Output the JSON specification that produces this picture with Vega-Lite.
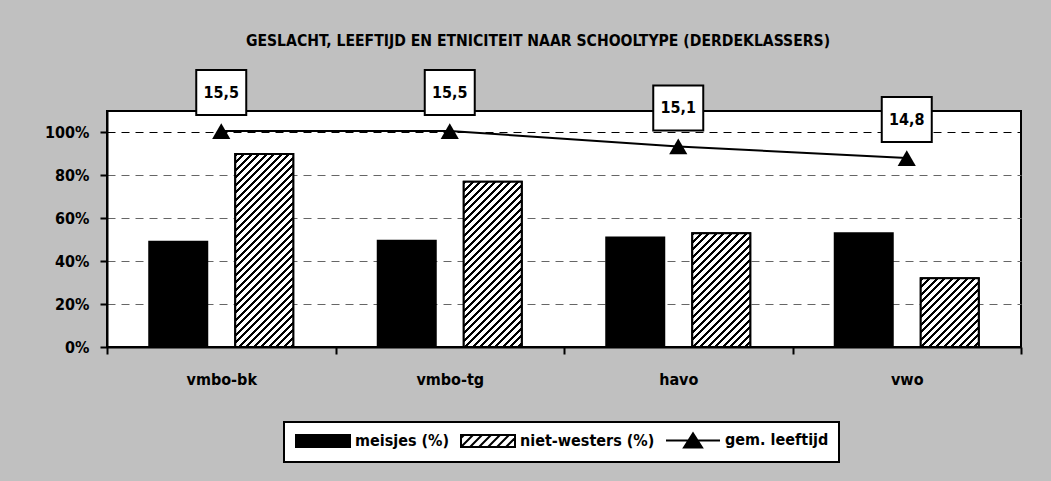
{
  "$schema": "https://vega.github.io/schema/vega-lite/v6.json",
  "width": 914,
  "height": 236,
  "autosize": {"type": "none"},
  "padding": {"left": 107, "top": 111, "right": 30, "bottom": 134},
  "background": "#c0c0c0",
  "title": {
    "text": "GESLACHT, LEEFTIJD EN ETNICITEIT NAAR SCHOOLTYPE (DERDEKLASSERS)",
    "font": "DejaVu Sans Condensed, Liberation Sans Narrow, sans-serif",
    "fontSize": 15.6,
    "fontWeight": "bold",
    "color": "black",
    "anchor": "middle",
    "frame": "group",
    "dx": -26,
    "offset": 16
  },
  "datasets": {
    "bars": [
      {"school": "vmbo-bk", "series": "meisjes (%)", "value": 0.49},
      {"school": "vmbo-bk", "series": "niet-westers (%)", "value": 0.90},
      {"school": "vmbo-tg", "series": "meisjes (%)", "value": 0.495},
      {"school": "vmbo-tg", "series": "niet-westers (%)", "value": 0.77},
      {"school": "havo", "series": "meisjes (%)", "value": 0.51},
      {"school": "havo", "series": "niet-westers (%)", "value": 0.53},
      {"school": "vwo", "series": "meisjes (%)", "value": 0.53},
      {"school": "vwo", "series": "niet-westers (%)", "value": 0.32}
    ],
    "age": [
      {"school": "vmbo-bk", "age": 15.5},
      {"school": "vmbo-tg", "age": 15.5},
      {"school": "havo", "age": 15.1},
      {"school": "vwo", "age": 14.8}
    ]
  },
  "layer": [
    {
      "data": {"name": "bars"},
      "encoding": {
        "x": {
          "field": "school", "type": "nominal",
          "sort": ["vmbo-bk", "vmbo-tg", "havo", "vwo"],
          "scale": {"paddingInner": 0, "paddingOuter": 0},
          "axis": {"title": null, "labelAngle": 0, "tickBand": "extent", "labelPadding": 17, "grid": false}
        },
        "xOffset": {
          "field": "series", "type": "nominal",
          "sort": ["meisjes (%)", "niet-westers (%)"],
          "scale": {"domain": ["meisjes (%)", "niet-westers (%)"], "paddingInner": 0.3256, "paddingOuter": 0.4913}
        },
        "y": {
          "field": "value", "type": "quantitative",
          "scale": {"domain": [0, 1.1], "nice": false},
          "axis": {
            "title": null, "format": ".0%", "values": [0, 0.2, 0.4, 0.6, 0.8, 1],
            "labelPadding": 11, "grid": true, "gridDash": [8, 6], "gridWidth": 1,
            "gridColor": {"condition": {"test": "datum.value === 1", "value": "black"}, "value": "#666666"}
          }
        }
      },
      "layer": [
        {
          "mark": {"type": "bar", "stroke": "black", "strokeWidth": 2},
          "encoding": {
            "fill": {
              "field": "series", "type": "nominal",
              "scale": {"domain": ["meisjes (%)", "niet-westers (%)", "gem. leeftijd"], "range": ["#000000", "#ffffff", "#000000"]},
              "legend": {
                "title": null,
                "orient": "none",
                "direction": "horizontal",
                "legendX": 177,
                "legendY": 311,
                "fillColor": "white",
                "strokeColor": "black",
                "padding": 10,
                "labelFont": "DejaVu Sans Condensed, Liberation Sans Narrow, sans-serif",
                "labelFontSize": 16,
                "labelFontWeight": "bold",
                "labelColor": "black",
                "labelOffset": 24,
                "symbolOffset": 21,
                "symbolSize": 144,
                "symbolStrokeWidth": 2,
                "symbolStrokeColor": "black",
                "columnPadding": 7,
                "encode": {
                  "symbols": {
                    "update": {
                      "shape": {"signal": "datum.value === 'meisjes (%)' ? 'M-4.5,-1H4.5V1H-4.5Z' : datum.value === 'niet-westers (%)' ? 'M-4.5,-1H4.5V1H-4.5ZM-4.5,-0.5L-4,-1M-4.5,1L-2.5,-1M-3,1L-1,-1M-1.5,1L0.5,-1M0,1L2,-1M1.5,1L3.5,-1M3,1L4.5,-0.5' : 'M-4.5,0H4.5M-1.5,1.17L0,-1.17L1.5,1.17Z'"},
                      "fill": {"signal": "datum.value === 'niet-westers (%)' ? 'white' : 'black'"},
                      "stroke": {"value": "black"},
                      "strokeWidth": {"value": 2},
                      "opacity": {"value": 1}
                    }
                  }
                }
              }
            }
          }
        },
        {
          "transform": [{"filter": "datum.series === 'niet-westers (%)'"}],
          "mark": {"type": "bar", "stroke": "black", "strokeWidth": 2},
          "encoding": {
            "fill": {
              "condition": [
                {"test": "datum.school === 'vmbo-bk'", "value": {"gradient": "linear", "x1": 0, "y1": 0, "x2": 1.0702, "y2": 3.5628, "stops": [{"offset":0,"color":"#000"},{"offset":0.004,"color":"#000"},{"offset":0.004,"color":"#fff"},{"offset":0.01,"color":"#fff"},{"offset":0.01,"color":"#000"},{"offset":0.014,"color":"#000"},{"offset":0.014,"color":"#fff"},{"offset":0.02,"color":"#fff"},{"offset":0.02,"color":"#000"},{"offset":0.024,"color":"#000"},{"offset":0.024,"color":"#fff"},{"offset":0.03,"color":"#fff"},{"offset":0.03,"color":"#000"},{"offset":0.034,"color":"#000"},{"offset":0.034,"color":"#fff"},{"offset":0.04,"color":"#fff"},{"offset":0.04,"color":"#000"},{"offset":0.044,"color":"#000"},{"offset":0.044,"color":"#fff"},{"offset":0.05,"color":"#fff"},{"offset":0.05,"color":"#000"},{"offset":0.054,"color":"#000"},{"offset":0.054,"color":"#fff"},{"offset":0.06,"color":"#fff"},{"offset":0.06,"color":"#000"},{"offset":0.064,"color":"#000"},{"offset":0.064,"color":"#fff"},{"offset":0.07,"color":"#fff"},{"offset":0.07,"color":"#000"},{"offset":0.074,"color":"#000"},{"offset":0.074,"color":"#fff"},{"offset":0.08,"color":"#fff"},{"offset":0.08,"color":"#000"},{"offset":0.084,"color":"#000"},{"offset":0.084,"color":"#fff"},{"offset":0.09,"color":"#fff"},{"offset":0.09,"color":"#000"},{"offset":0.094,"color":"#000"},{"offset":0.094,"color":"#fff"},{"offset":0.1,"color":"#fff"},{"offset":0.1,"color":"#000"},{"offset":0.104,"color":"#000"},{"offset":0.104,"color":"#fff"},{"offset":0.11,"color":"#fff"},{"offset":0.11,"color":"#000"},{"offset":0.114,"color":"#000"},{"offset":0.114,"color":"#fff"},{"offset":0.12,"color":"#fff"},{"offset":0.12,"color":"#000"},{"offset":0.124,"color":"#000"},{"offset":0.124,"color":"#fff"},{"offset":0.13,"color":"#fff"},{"offset":0.13,"color":"#000"},{"offset":0.134,"color":"#000"},{"offset":0.134,"color":"#fff"},{"offset":0.14,"color":"#fff"},{"offset":0.14,"color":"#000"},{"offset":0.144,"color":"#000"},{"offset":0.144,"color":"#fff"},{"offset":0.15,"color":"#fff"},{"offset":0.15,"color":"#000"},{"offset":0.154,"color":"#000"},{"offset":0.154,"color":"#fff"},{"offset":0.16,"color":"#fff"},{"offset":0.16,"color":"#000"},{"offset":0.164,"color":"#000"},{"offset":0.164,"color":"#fff"},{"offset":0.17,"color":"#fff"},{"offset":0.17,"color":"#000"},{"offset":0.174,"color":"#000"},{"offset":0.174,"color":"#fff"},{"offset":0.18,"color":"#fff"},{"offset":0.18,"color":"#000"},{"offset":0.184,"color":"#000"},{"offset":0.184,"color":"#fff"},{"offset":0.19,"color":"#fff"},{"offset":0.19,"color":"#000"},{"offset":0.194,"color":"#000"},{"offset":0.194,"color":"#fff"},{"offset":0.2,"color":"#fff"},{"offset":0.2,"color":"#000"},{"offset":0.204,"color":"#000"},{"offset":0.204,"color":"#fff"},{"offset":0.21,"color":"#fff"},{"offset":0.21,"color":"#000"},{"offset":0.214,"color":"#000"},{"offset":0.214,"color":"#fff"},{"offset":0.22,"color":"#fff"},{"offset":0.22,"color":"#000"},{"offset":0.224,"color":"#000"},{"offset":0.224,"color":"#fff"},{"offset":0.23,"color":"#fff"},{"offset":0.23,"color":"#000"},{"offset":0.234,"color":"#000"},{"offset":0.234,"color":"#fff"},{"offset":0.24,"color":"#fff"},{"offset":0.24,"color":"#000"},{"offset":0.244,"color":"#000"},{"offset":0.244,"color":"#fff"},{"offset":0.25,"color":"#fff"},{"offset":0.25,"color":"#000"},{"offset":0.254,"color":"#000"},{"offset":0.254,"color":"#fff"},{"offset":0.26,"color":"#fff"},{"offset":0.26,"color":"#000"},{"offset":0.264,"color":"#000"},{"offset":0.264,"color":"#fff"},{"offset":0.27,"color":"#fff"},{"offset":0.27,"color":"#000"},{"offset":0.274,"color":"#000"},{"offset":0.274,"color":"#fff"},{"offset":0.28,"color":"#fff"},{"offset":0.28,"color":"#000"},{"offset":0.284,"color":"#000"},{"offset":0.284,"color":"#fff"},{"offset":0.29,"color":"#fff"},{"offset":0.29,"color":"#000"},{"offset":0.294,"color":"#000"},{"offset":0.294,"color":"#fff"},{"offset":0.3,"color":"#fff"},{"offset":0.3,"color":"#000"},{"offset":0.304,"color":"#000"},{"offset":0.304,"color":"#fff"},{"offset":0.31,"color":"#fff"},{"offset":0.31,"color":"#000"},{"offset":0.314,"color":"#000"},{"offset":0.314,"color":"#fff"},{"offset":0.32,"color":"#fff"},{"offset":0.32,"color":"#000"},{"offset":0.324,"color":"#000"},{"offset":0.324,"color":"#fff"},{"offset":0.33,"color":"#fff"},{"offset":0.33,"color":"#000"},{"offset":0.334,"color":"#000"},{"offset":0.334,"color":"#fff"},{"offset":0.34,"color":"#fff"},{"offset":0.34,"color":"#000"},{"offset":0.344,"color":"#000"},{"offset":0.344,"color":"#fff"},{"offset":0.35,"color":"#fff"}]}},
                {"test": "datum.school === 'vmbo-tg'", "value": {"gradient": "linear", "x1": 0, "y1": 0, "x2": 1.419, "y2": 4.0418, "stops": [{"offset":0,"color":"#000"},{"offset":0.004,"color":"#000"},{"offset":0.004,"color":"#fff"},{"offset":0.01,"color":"#fff"},{"offset":0.01,"color":"#000"},{"offset":0.014,"color":"#000"},{"offset":0.014,"color":"#fff"},{"offset":0.02,"color":"#fff"},{"offset":0.02,"color":"#000"},{"offset":0.024,"color":"#000"},{"offset":0.024,"color":"#fff"},{"offset":0.03,"color":"#fff"},{"offset":0.03,"color":"#000"},{"offset":0.034,"color":"#000"},{"offset":0.034,"color":"#fff"},{"offset":0.04,"color":"#fff"},{"offset":0.04,"color":"#000"},{"offset":0.044,"color":"#000"},{"offset":0.044,"color":"#fff"},{"offset":0.05,"color":"#fff"},{"offset":0.05,"color":"#000"},{"offset":0.054,"color":"#000"},{"offset":0.054,"color":"#fff"},{"offset":0.06,"color":"#fff"},{"offset":0.06,"color":"#000"},{"offset":0.064,"color":"#000"},{"offset":0.064,"color":"#fff"},{"offset":0.07,"color":"#fff"},{"offset":0.07,"color":"#000"},{"offset":0.074,"color":"#000"},{"offset":0.074,"color":"#fff"},{"offset":0.08,"color":"#fff"},{"offset":0.08,"color":"#000"},{"offset":0.084,"color":"#000"},{"offset":0.084,"color":"#fff"},{"offset":0.09,"color":"#fff"},{"offset":0.09,"color":"#000"},{"offset":0.094,"color":"#000"},{"offset":0.094,"color":"#fff"},{"offset":0.1,"color":"#fff"},{"offset":0.1,"color":"#000"},{"offset":0.104,"color":"#000"},{"offset":0.104,"color":"#fff"},{"offset":0.11,"color":"#fff"},{"offset":0.11,"color":"#000"},{"offset":0.114,"color":"#000"},{"offset":0.114,"color":"#fff"},{"offset":0.12,"color":"#fff"},{"offset":0.12,"color":"#000"},{"offset":0.124,"color":"#000"},{"offset":0.124,"color":"#fff"},{"offset":0.13,"color":"#fff"},{"offset":0.13,"color":"#000"},{"offset":0.134,"color":"#000"},{"offset":0.134,"color":"#fff"},{"offset":0.14,"color":"#fff"},{"offset":0.14,"color":"#000"},{"offset":0.144,"color":"#000"},{"offset":0.144,"color":"#fff"},{"offset":0.15,"color":"#fff"},{"offset":0.15,"color":"#000"},{"offset":0.154,"color":"#000"},{"offset":0.154,"color":"#fff"},{"offset":0.16,"color":"#fff"},{"offset":0.16,"color":"#000"},{"offset":0.164,"color":"#000"},{"offset":0.164,"color":"#fff"},{"offset":0.17,"color":"#fff"},{"offset":0.17,"color":"#000"},{"offset":0.174,"color":"#000"},{"offset":0.174,"color":"#fff"},{"offset":0.18,"color":"#fff"},{"offset":0.18,"color":"#000"},{"offset":0.184,"color":"#000"},{"offset":0.184,"color":"#fff"},{"offset":0.19,"color":"#fff"},{"offset":0.19,"color":"#000"},{"offset":0.194,"color":"#000"},{"offset":0.194,"color":"#fff"},{"offset":0.2,"color":"#fff"},{"offset":0.2,"color":"#000"},{"offset":0.204,"color":"#000"},{"offset":0.204,"color":"#fff"},{"offset":0.21,"color":"#fff"},{"offset":0.21,"color":"#000"},{"offset":0.214,"color":"#000"},{"offset":0.214,"color":"#fff"},{"offset":0.22,"color":"#fff"},{"offset":0.22,"color":"#000"},{"offset":0.224,"color":"#000"},{"offset":0.224,"color":"#fff"},{"offset":0.23,"color":"#fff"},{"offset":0.23,"color":"#000"},{"offset":0.234,"color":"#000"},{"offset":0.234,"color":"#fff"},{"offset":0.24,"color":"#fff"},{"offset":0.24,"color":"#000"},{"offset":0.244,"color":"#000"},{"offset":0.244,"color":"#fff"},{"offset":0.25,"color":"#fff"},{"offset":0.25,"color":"#000"},{"offset":0.254,"color":"#000"},{"offset":0.254,"color":"#fff"},{"offset":0.26,"color":"#fff"},{"offset":0.26,"color":"#000"},{"offset":0.264,"color":"#000"},{"offset":0.264,"color":"#fff"},{"offset":0.27,"color":"#fff"},{"offset":0.27,"color":"#000"},{"offset":0.274,"color":"#000"},{"offset":0.274,"color":"#fff"},{"offset":0.28,"color":"#fff"},{"offset":0.28,"color":"#000"},{"offset":0.284,"color":"#000"},{"offset":0.284,"color":"#fff"},{"offset":0.29,"color":"#fff"},{"offset":0.29,"color":"#000"},{"offset":0.294,"color":"#000"},{"offset":0.294,"color":"#fff"},{"offset":0.3,"color":"#fff"},{"offset":0.3,"color":"#000"},{"offset":0.304,"color":"#000"},{"offset":0.304,"color":"#fff"},{"offset":0.31,"color":"#fff"}]}},
                {"test": "datum.school === 'havo'", "value": {"gradient": "linear", "x1": 0, "y1": 0, "x2": 2.6697, "y2": 5.234, "stops": [{"offset":0,"color":"#000"},{"offset":0.004,"color":"#000"},{"offset":0.004,"color":"#fff"},{"offset":0.01,"color":"#fff"},{"offset":0.01,"color":"#000"},{"offset":0.014,"color":"#000"},{"offset":0.014,"color":"#fff"},{"offset":0.02,"color":"#fff"},{"offset":0.02,"color":"#000"},{"offset":0.024,"color":"#000"},{"offset":0.024,"color":"#fff"},{"offset":0.03,"color":"#fff"},{"offset":0.03,"color":"#000"},{"offset":0.034,"color":"#000"},{"offset":0.034,"color":"#fff"},{"offset":0.04,"color":"#fff"},{"offset":0.04,"color":"#000"},{"offset":0.044,"color":"#000"},{"offset":0.044,"color":"#fff"},{"offset":0.05,"color":"#fff"},{"offset":0.05,"color":"#000"},{"offset":0.054,"color":"#000"},{"offset":0.054,"color":"#fff"},{"offset":0.06,"color":"#fff"},{"offset":0.06,"color":"#000"},{"offset":0.064,"color":"#000"},{"offset":0.064,"color":"#fff"},{"offset":0.07,"color":"#fff"},{"offset":0.07,"color":"#000"},{"offset":0.074,"color":"#000"},{"offset":0.074,"color":"#fff"},{"offset":0.08,"color":"#fff"},{"offset":0.08,"color":"#000"},{"offset":0.084,"color":"#000"},{"offset":0.084,"color":"#fff"},{"offset":0.09,"color":"#fff"},{"offset":0.09,"color":"#000"},{"offset":0.094,"color":"#000"},{"offset":0.094,"color":"#fff"},{"offset":0.1,"color":"#fff"},{"offset":0.1,"color":"#000"},{"offset":0.104,"color":"#000"},{"offset":0.104,"color":"#fff"},{"offset":0.11,"color":"#fff"},{"offset":0.11,"color":"#000"},{"offset":0.114,"color":"#000"},{"offset":0.114,"color":"#fff"},{"offset":0.12,"color":"#fff"},{"offset":0.12,"color":"#000"},{"offset":0.124,"color":"#000"},{"offset":0.124,"color":"#fff"},{"offset":0.13,"color":"#fff"},{"offset":0.13,"color":"#000"},{"offset":0.134,"color":"#000"},{"offset":0.134,"color":"#fff"},{"offset":0.14,"color":"#fff"},{"offset":0.14,"color":"#000"},{"offset":0.144,"color":"#000"},{"offset":0.144,"color":"#fff"},{"offset":0.15,"color":"#fff"},{"offset":0.15,"color":"#000"},{"offset":0.154,"color":"#000"},{"offset":0.154,"color":"#fff"},{"offset":0.16,"color":"#fff"},{"offset":0.16,"color":"#000"},{"offset":0.164,"color":"#000"},{"offset":0.164,"color":"#fff"},{"offset":0.17,"color":"#fff"},{"offset":0.17,"color":"#000"},{"offset":0.174,"color":"#000"},{"offset":0.174,"color":"#fff"},{"offset":0.18,"color":"#fff"},{"offset":0.18,"color":"#000"},{"offset":0.184,"color":"#000"},{"offset":0.184,"color":"#fff"},{"offset":0.19,"color":"#fff"},{"offset":0.19,"color":"#000"},{"offset":0.194,"color":"#000"},{"offset":0.194,"color":"#fff"},{"offset":0.2,"color":"#fff"},{"offset":0.2,"color":"#000"},{"offset":0.204,"color":"#000"},{"offset":0.204,"color":"#fff"},{"offset":0.21,"color":"#fff"},{"offset":0.21,"color":"#000"},{"offset":0.214,"color":"#000"},{"offset":0.214,"color":"#fff"},{"offset":0.22,"color":"#fff"},{"offset":0.22,"color":"#000"},{"offset":0.224,"color":"#000"},{"offset":0.224,"color":"#fff"},{"offset":0.23,"color":"#fff"},{"offset":0.23,"color":"#000"},{"offset":0.234,"color":"#000"},{"offset":0.234,"color":"#fff"},{"offset":0.24,"color":"#fff"}]}}
              ],
              "value": {"gradient": "linear", "x1": 0, "y1": 0, "x2": 5.3852, "y2": 6.3745, "stops": [{"offset":0,"color":"#000"},{"offset":0.004,"color":"#000"},{"offset":0.004,"color":"#fff"},{"offset":0.01,"color":"#fff"},{"offset":0.01,"color":"#000"},{"offset":0.014,"color":"#000"},{"offset":0.014,"color":"#fff"},{"offset":0.02,"color":"#fff"},{"offset":0.02,"color":"#000"},{"offset":0.024,"color":"#000"},{"offset":0.024,"color":"#fff"},{"offset":0.03,"color":"#fff"},{"offset":0.03,"color":"#000"},{"offset":0.034,"color":"#000"},{"offset":0.034,"color":"#fff"},{"offset":0.04,"color":"#fff"},{"offset":0.04,"color":"#000"},{"offset":0.044,"color":"#000"},{"offset":0.044,"color":"#fff"},{"offset":0.05,"color":"#fff"},{"offset":0.05,"color":"#000"},{"offset":0.054,"color":"#000"},{"offset":0.054,"color":"#fff"},{"offset":0.06,"color":"#fff"},{"offset":0.06,"color":"#000"},{"offset":0.064,"color":"#000"},{"offset":0.064,"color":"#fff"},{"offset":0.07,"color":"#fff"},{"offset":0.07,"color":"#000"},{"offset":0.074,"color":"#000"},{"offset":0.074,"color":"#fff"},{"offset":0.08,"color":"#fff"},{"offset":0.08,"color":"#000"},{"offset":0.084,"color":"#000"},{"offset":0.084,"color":"#fff"},{"offset":0.09,"color":"#fff"},{"offset":0.09,"color":"#000"},{"offset":0.094,"color":"#000"},{"offset":0.094,"color":"#fff"},{"offset":0.1,"color":"#fff"},{"offset":0.1,"color":"#000"},{"offset":0.104,"color":"#000"},{"offset":0.104,"color":"#fff"},{"offset":0.11,"color":"#fff"},{"offset":0.11,"color":"#000"},{"offset":0.114,"color":"#000"},{"offset":0.114,"color":"#fff"},{"offset":0.12,"color":"#fff"},{"offset":0.12,"color":"#000"},{"offset":0.124,"color":"#000"},{"offset":0.124,"color":"#fff"},{"offset":0.13,"color":"#fff"},{"offset":0.13,"color":"#000"},{"offset":0.134,"color":"#000"},{"offset":0.134,"color":"#fff"},{"offset":0.14,"color":"#fff"},{"offset":0.14,"color":"#000"},{"offset":0.144,"color":"#000"},{"offset":0.144,"color":"#fff"},{"offset":0.15,"color":"#fff"},{"offset":0.15,"color":"#000"},{"offset":0.154,"color":"#000"},{"offset":0.154,"color":"#fff"},{"offset":0.16,"color":"#fff"},{"offset":0.16,"color":"#000"},{"offset":0.164,"color":"#000"},{"offset":0.164,"color":"#fff"},{"offset":0.17,"color":"#fff"},{"offset":0.17,"color":"#000"},{"offset":0.174,"color":"#000"},{"offset":0.174,"color":"#fff"},{"offset":0.18,"color":"#fff"}]}
            }
          }
        }
      ]
    },
    {
      "data": {"name": "age"},
      "encoding": {
        "x": {"field": "school", "type": "nominal", "sort": ["vmbo-bk", "vmbo-tg", "havo", "vwo"]},
        "y": {"field": "age", "type": "quantitative", "scale": {"domain": [9.9, 16.02], "nice": false, "zero": false}, "axis": null}
      },
      "layer": [
        {"mark": {"type": "line", "color": "black", "strokeWidth": 2}},
        {"mark": {"type": "point", "shape": "triangle-up", "filled": true, "color": "black", "size": 330, "opacity": 1}},
        {"mark": {"type": "point", "shape": "M-1,-2.44H1V-0.64H-1Z", "size": 2500, "filled": true, "fill": "white", "stroke": "black", "strokeWidth": 2, "opacity": 1}},
        {
          "mark": {"type": "text", "dy": -38, "font": "DejaVu Sans Condensed, Liberation Sans Narrow, sans-serif", "fontSize": 16, "fontWeight": "bold", "color": "black", "baseline": "middle", "align": "center"},
          "encoding": {"text": {"field": "age", "type": "quantitative", "format": ".1f"}}
        }
      ]
    }
  ],
  "resolve": {"scale": {"y": "independent"}},
  "config": {
    "font": "DejaVu Sans Condensed, Liberation Sans Narrow, sans-serif",
    "locale": {"number": {"decimal": ",", "thousands": ".", "grouping": [3], "currency": ["€", ""]}},
    "view": {"fill": "white", "stroke": "black", "strokeWidth": 2},
    "axis": {
      "labelFont": "DejaVu Sans Condensed, Liberation Sans Narrow, sans-serif",
      "labelFontSize": 16,
      "labelFontWeight": "bold",
      "labelColor": "black",
      "domainColor": "black",
      "domainWidth": 2,
      "tickColor": "black",
      "tickWidth": 2,
      "tickSize": 7
    },
    "legend": {"strokeWidth": 2}
  }
}
